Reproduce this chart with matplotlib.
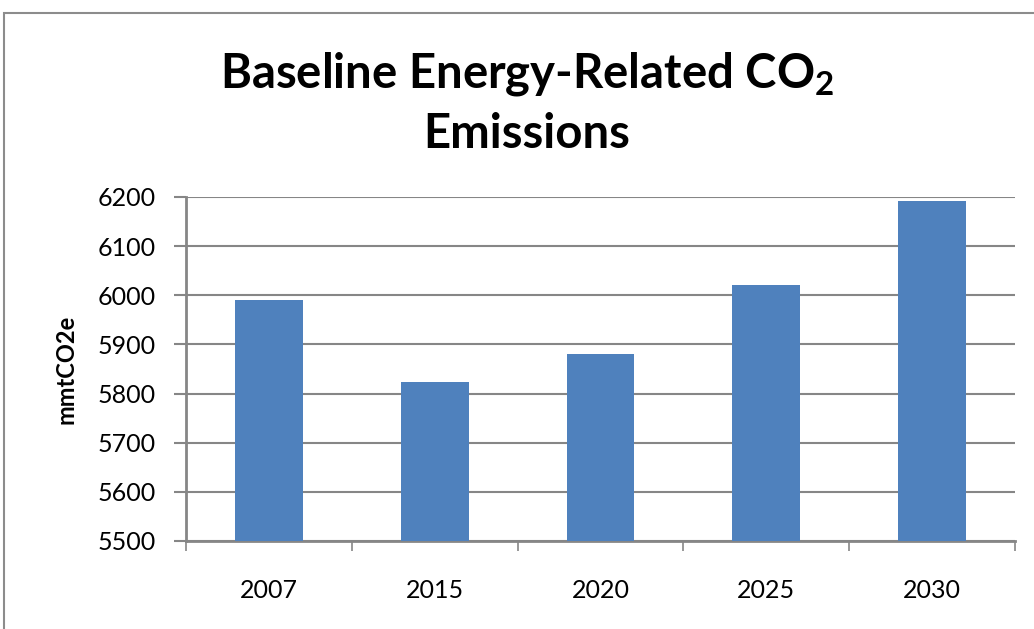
#!/usr/bin/env python3
"""Baseline energy-related CO2 emissions, Excel-style column chart."""

import matplotlib
matplotlib.use("Agg")
import matplotlib.pyplot as plt
from matplotlib.patches import Rectangle

years = ["2007", "2015", "2020", "2025", "2030"]
emissions = [5990, 5823, 5880, 6021, 6192]
y_ticks = [5500, 5600, 5700, 5800, 5900, 6000, 6100, 6200]

plt.rcParams["font.family"] = ["Lato", "DejaVu Sans"]
plt.rcParams["mathtext.fontset"] = "custom"
plt.rcParams["mathtext.bf"] = "Lato:bold"
plt.rcParams["mathtext.rm"] = "Lato"

W, H = 1034, 629
fig = plt.figure(figsize=(W / 100, H / 100), dpi=100)
ax = fig.add_axes([186 / W, 1 - 541 / H, (1015 - 186) / W, (541 - 197) / H])

# outer chart frame (cut off at right / bottom like the screenshot)
fig.patches.append(Rectangle((4 / W, -0.1), 1.2, 1 - 13 / H + 0.1,
                             transform=fig.transFigure, fill=False,
                             edgecolor="#8c8c8c", linewidth=1.5))

x = range(len(years))
ax.bar(x, [e - y_ticks[0] for e in emissions], bottom=y_ticks[0],
       width=0.41, color="#4F81BD", zorder=3)

ax.set_xlim(-0.5, len(years) - 0.5)
ax.set_ylim(y_ticks[0], y_ticks[-1])
ax.set_yticks(y_ticks)
ax.set_yticklabels([str(t) for t in y_ticks])
ax.set_xticks(list(x))
ax.set_xticklabels(years)
ax.set_xticks([i - 0.5 for i in range(len(years) + 1)], minor=True)

ax.grid(axis="y", color="#868686", linewidth=1.5, zorder=0)
for side in ("top", "right"):
    ax.spines[side].set_visible(False)
for side in ("left", "bottom"):
    ax.spines[side].set_color("#868686")
    ax.spines[side].set_linewidth(2)

ax.tick_params(axis="y", length=9, width=1.5, color="#868686", pad=13,
               labelsize=18)
ax.tick_params(axis="x", which="major", length=0, pad=27, labelsize=18)
ax.tick_params(axis="x", which="minor", length=7, width=1.2, color="#868686")

ax.set_ylabel("mmtCO2e", fontsize=17, fontweight="bold", labelpad=14)

fig.text(527 / W, 1 - 88 / H, r"Baseline Energy-Related CO$_\mathbf{2}$",
         ha="center", va="baseline", fontsize=34, fontweight="bold")
fig.text(527 / W, 1 - 148 / H, "Emissions",
         ha="center", va="baseline", fontsize=34, fontweight="bold")

fig.savefig("out.png", dpi=100)
